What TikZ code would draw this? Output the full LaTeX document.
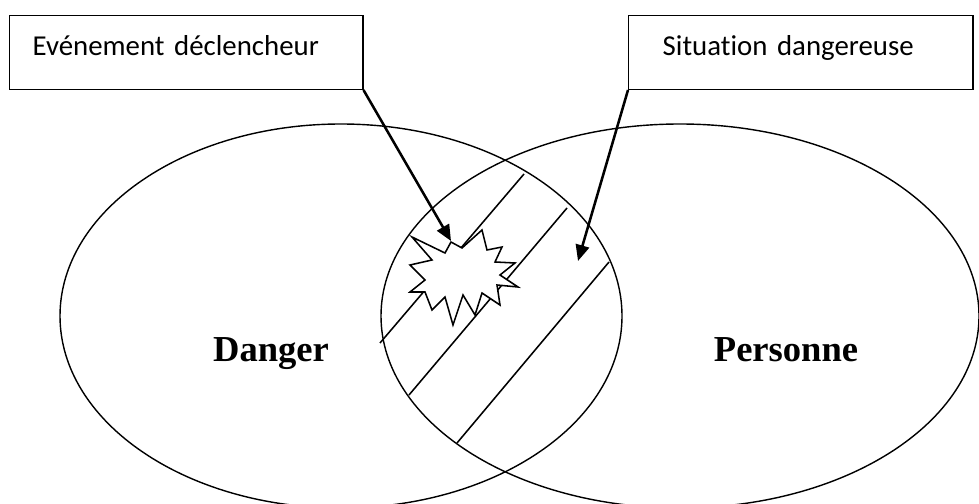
\documentclass[tikz,border=0pt]{standalone}
\usepackage{fontspec}
\setmainfont{Liberation Serif}
\newfontfamily\boxfont[Ligatures=NoCommon]{Carlito}
\usetikzlibrary{arrows.meta}

\begin{document}
\begin{tikzpicture}[x=0.025cm,y=-0.025cm,
  textbox/.style={draw,line width=1pt,anchor=north west,align=left,inner ysep=0pt,
    text height=0.99cm,text depth=0.85cm,font=\boxfont\fontsize{20.5}{24}\selectfont},
  setlabel/.style={anchor=base,font=\bfseries\fontsize{26}{30}\selectfont},
  pointer/.style={line width=1.8pt,-{Triangle[length=4mm,width=3.4mm]}}]
  \useasboundingbox (0,0) rectangle (979,504);
  \clip (0,0) rectangle (979,504);

  % the two sets
  \draw[line width=1pt] (341,316) ellipse [x radius=281,y radius=192];
  \draw[line width=1pt] (680,316) ellipse [x radius=299,y radius=192];

  % hatching of the common part
  \foreach \xa/\ya/\xb/\yb in {380/343/524/174, 409/395/567/208, 457/443/609/262} {
   \draw[line width=1.1pt] (\xa,\ya) -- (\xb,\yb);
  }

  % explosion
  \draw[line width=1.1pt,fill=white] (412,237) -- (445,253) -- (451,242) -- (462,248)
    -- (482,230) -- (487,250) -- (502,247) -- (495,262) -- (515,263) -- (500,275)
    -- (518,287) -- (497,285) -- (500,305) -- (482,293) -- (475,315) -- (463,295)
    -- (453,325) -- (445,297) -- (432,310) -- (425,292) -- (410,292) -- (425,280)
    -- (410,265) -- (432,260) -- cycle;

  \node[setlabel] (danger) at (271,361) {Danger};
  \node[setlabel] (personne) at (786,361) {Personne};

  \node[textbox,text width=7.675cm,inner xsep=0.575cm] (evbox) at (9,15) {Evénement déclencheur};
  \node[textbox,text width=6.9cm,inner xsep=0.85cm] (sitbox) at (628,15) {Situation dangereuse};

  \coordinate (burstpt) at (451,241);
  \coordinate (zonept) at (578,261);
  \draw[pointer] (evbox.south east) -- (burstpt);
  \draw[pointer] (sitbox.south west) -- (zonept);
\end{tikzpicture}
\end{document}
